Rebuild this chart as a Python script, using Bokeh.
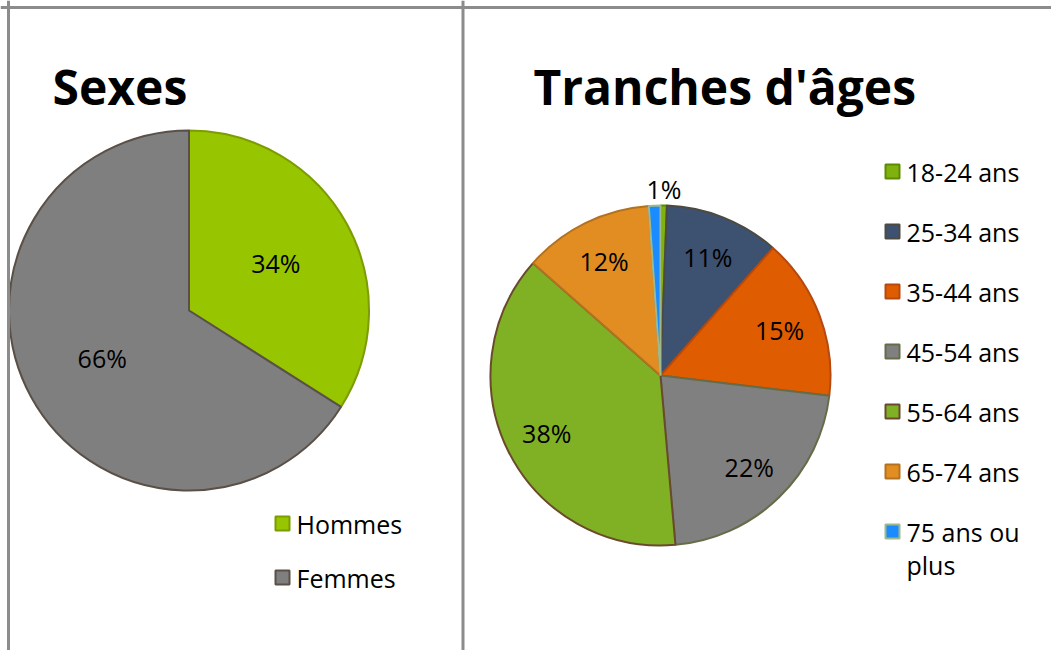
import math
from bokeh.plotting import figure
from bokeh.models import Range1d, Span, ColumnDataSource
from bokeh.core.properties import value
from bokeh.embed import file_html
from bokeh.resources import INLINE

# ---------------- data ----------------
sex_labels = ["Hommes", "Femmes"]
sex_values = [34, 66]
sex_fill = ["#97c500", "#7f7f7f"]
sex_edge = ["#7c9c00", "#5a5048"]

age_labels = ["18-24 ans", "25-34 ans", "35-44 ans", "45-54 ans",
              "55-64 ans", "65-74 ans", "75 ans ou plus"]
age_values = [0.6, 10.9, 15.4, 21.7, 37.9, 12.4, 1.1]
age_fill = ["#7fb10f", "#3d5170", "#e05c00", "#808080",
            "#80b125", "#e28d22", "#1a8cff"]
age_edge = ["#5f8a00", "#4d4a42", "#b44a10", "#646c48",
            "#6a4a2c", "#b37220", "#9fb88c"]
age_show_label = [True, True, True, True, True, True, False]

titles = ["Sexes", "Tranches d'âges"]

W, H = 1051, 650
FONT = "Open Sans"

p = figure(width=W, height=H, output_backend="svg", toolbar_location=None,
           x_range=Range1d(0, W), y_range=Range1d(0, H),
           min_border=0, match_aspect=False)
p.axis.visible = False
p.grid.visible = False
p.outline_line_color = None
p.background_fill_color = "white"
p.border_fill_color = "white"


def Y(py):
    # page pixel row -> data y
    return H - py


def pie(labels, values, fills, edges, cx, cy, r, frac, show, outside_frac=None):
    total = float(sum(values))
    starts, ends, lx, ly, txt = [], [], [], [], []
    cum = 0.0
    for i, v in enumerate(values):
        a0 = math.pi / 2 - 2 * math.pi * cum / total
        cum += v
        a1 = math.pi / 2 - 2 * math.pi * cum / total
        starts.append(a0)
        ends.append(a1)
    src = ColumnDataSource(dict(label=labels, value=values, start=starts, end=ends,
                                fill=fills, edge=edges))
    p.wedge(x=cx, y=cy, radius=r, start_angle="start", end_angle="end",
            direction="clock", fill_color="fill", line_color="edge",
            line_width=2, source=src)
    for i, v in enumerate(values):
        if not show[i]:
            continue
        mid = (starts[i] + ends[i]) / 2
        f = frac
        if outside_frac is not None and v / total < 0.02:
            f = outside_frac
        lx.append(cx + f * r * math.cos(mid))
        ly.append(cy + f * r * math.sin(mid))
        txt.append("%d%%" % round(100 * v / total))
    p.text(x=lx, y=ly, text=txt, text_align="center", text_baseline="middle",
           text_font=value(FONT), text_font_size="25px", text_color="black")


def legend(labels, fills, edges, x0, y0, step, line_step, wrap=None):
    sx, sy, tx, ty, tt = [], [], [], [], []
    for i, lab in enumerate(labels):
        yc = y0 - i * step
        sx.append(x0)
        sy.append(yc)
        lines = [lab]
        if wrap and len(lab) > wrap:
            words = lab.split(" ")
            lines, cur = [], ""
            for w in words:
                cand = (cur + " " + w).strip()
                if len(cand) > wrap and cur:
                    lines.append(cur)
                    cur = w
                else:
                    cur = cand
            lines.append(cur)
        for k, ln in enumerate(lines):
            tx.append(x0 + 14)
            ty.append(yc - k * line_step)
            tt.append(ln)
    p.rect(x=sx, y=sy, width=14, height=14, fill_color=fills, line_color=edges,
           line_width=2)
    p.text(x=tx, y=ty, text=tt, text_align="left", text_baseline="middle",
           text_font=value(FONT), text_font_size="25px", text_color="black")


# frames
p.add_layout(Span(location=Y(7), dimension="width", line_color="#8c8c8c", line_width=3))
p.add_layout(Span(location=8, dimension="height", line_color="#8c8c8c", line_width=3))
p.add_layout(Span(location=462.5, dimension="height", line_color="#8c8c8c", line_width=3))

# titles
p.text(x=[52, 533], y=[Y(86), Y(86)], text=titles,
       text_align="left", text_baseline="middle",
       text_font=value(FONT), text_font_style="bold", text_font_size="48px",
       text_color="black")

# pies
pie(sex_labels, sex_values, sex_fill, sex_edge, 188.5, Y(310), 180, 0.55,
    [True, True])
pie(age_labels, age_values, age_fill, age_edge, 660, Y(375), 170, 0.75,
    age_show_label, outside_frac=1.1)

# legends
legend(sex_labels, sex_fill, sex_edge, 282, Y(523), 54, 33)
legend(age_labels, age_fill, age_edge, 892, Y(171), 60, 33, wrap=10)

open("out.html", "w").write(file_html(p, INLINE))
